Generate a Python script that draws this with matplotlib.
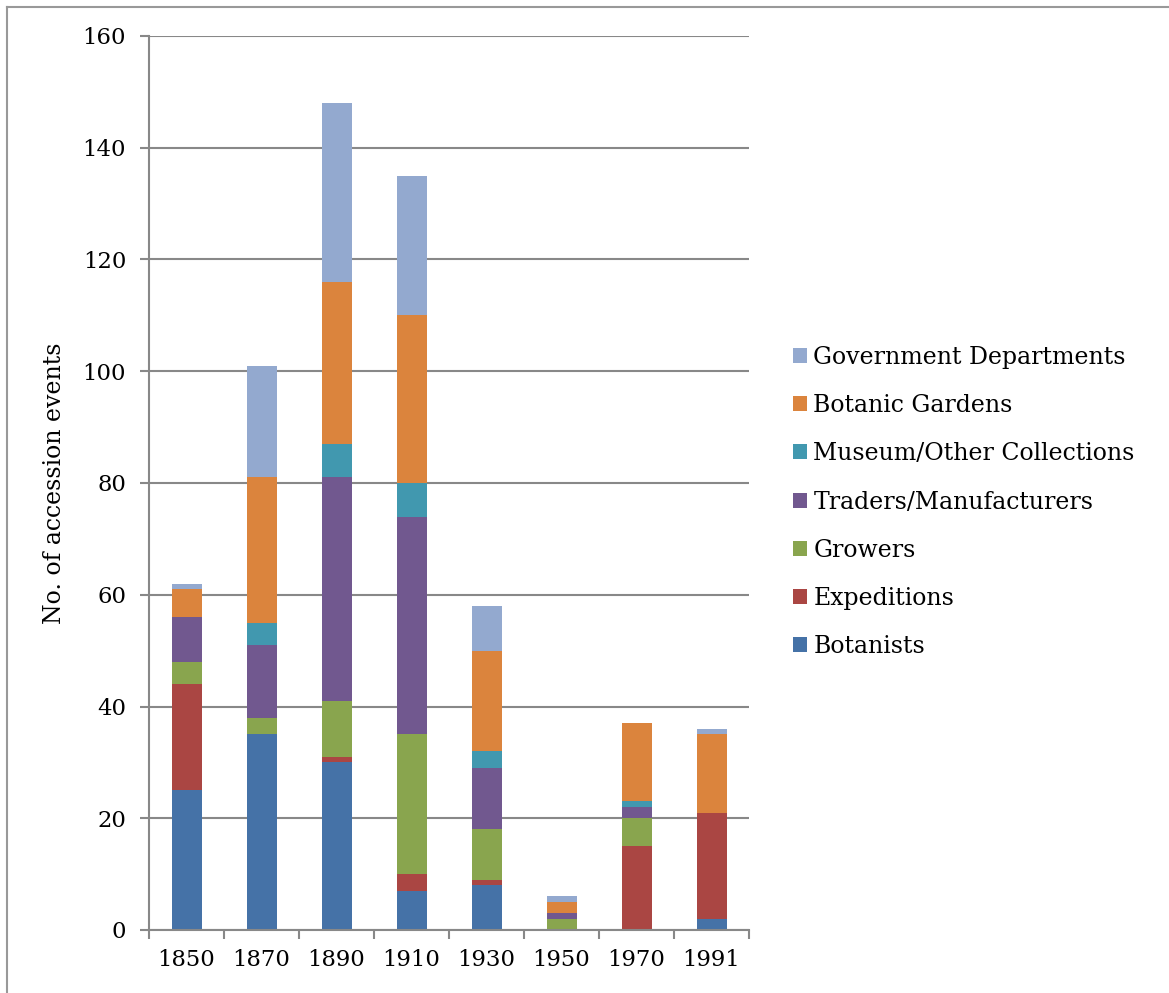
import numpy as np
import matplotlib
matplotlib.use("Agg")
import matplotlib.pyplot as plt
from matplotlib.lines import Line2D

years = ["1850", "1870", "1890", "1910", "1930", "1950", "1970", "1991"]
series = ["Botanists", "Expeditions", "Growers", "Traders/Manufacturers",
          "Museum/Other Collections", "Botanic Gardens", "Government Departments"]
botanists   = [25, 35, 30,  7,  8, 0,  0,  2]
expeditions = [19,  0,  1,  3,  1, 0, 15, 19]
growers     = [ 4,  3, 10, 25,  9, 2,  5,  0]
traders     = [ 8, 13, 40, 39, 11, 1,  2,  0]
museums     = [ 0,  4,  6,  6,  3, 0,  1,  0]
gardens     = [ 5, 26, 29, 30, 18, 2, 14, 14]
government  = [ 1, 20, 32, 25,  8, 1,  0,  1]
colors = ["#4572A7", "#AA4643", "#89A54E", "#71588F", "#4198AF", "#DB843D", "#93A9CF"]

plt.rcParams["font.family"] = ["DejaVu Serif"]
fig = plt.figure(figsize=(11.69, 9.93), dpi=100)
ax = fig.add_axes([149/1169, 63/993, 600/1169, 894/993])

x = np.arange(len(years))
bottom = np.zeros(len(years))
handles = []
for name, vals, c in zip(series, [botanists, expeditions, growers, traders, museums, gardens, government], colors):
    b = ax.bar(x, vals, 0.4, bottom=bottom, color=c, label=name, zorder=3)
    handles.append(b)
    bottom += np.array(vals)

ax.set_xlim(-0.5, len(years) - 0.5)
ax.set_ylim(0, 160)
ax.set_yticks(range(0, 161, 20))
ax.set_xticks(x)
ax.set_xticklabels(years)
ax.set_xticks(np.arange(-0.5, len(years)), minor=True)
ax.tick_params(axis="x", which="major", length=0, pad=14, labelsize=16.4)
ax.tick_params(axis="x", which="minor", length=6.5, width=1.5, color="#888888", direction="out")
ax.tick_params(axis="y", length=6.5, width=1.5, color="#888888", direction="out", pad=10, labelsize=16.4)
ax.grid(axis="y", color="#888888", lw=1.5, zorder=1)
for s in ["top", "right"]:
    ax.spines[s].set_visible(False)
for s in ["left", "bottom"]:
    ax.spines[s].set_color("#888888")
    ax.spines[s].set_linewidth(1.5)
ax.spines["bottom"].set_zorder(4)
ax.set_ylabel("No. of accession events", fontsize=17, labelpad=12)

leg = fig.legend(handles[::-1], series[::-1], loc="center left",
                 bbox_to_anchor=(772/1169, 1 - 502/993), frameon=False,
                 fontsize=17, handlelength=0.6, handleheight=0.6,
                 handletextpad=0.25, labelspacing=1.07)

# outer chart border
fig.add_artist(Line2D([7/1169, 7/1169], [0, 1 - 7/993], transform=fig.transFigure, color="#999999", lw=1.5))
fig.add_artist(Line2D([7/1169, 1], [1 - 7/993, 1 - 7/993], transform=fig.transFigure, color="#999999", lw=1.5))

fig.savefig("out.png", dpi=100)
